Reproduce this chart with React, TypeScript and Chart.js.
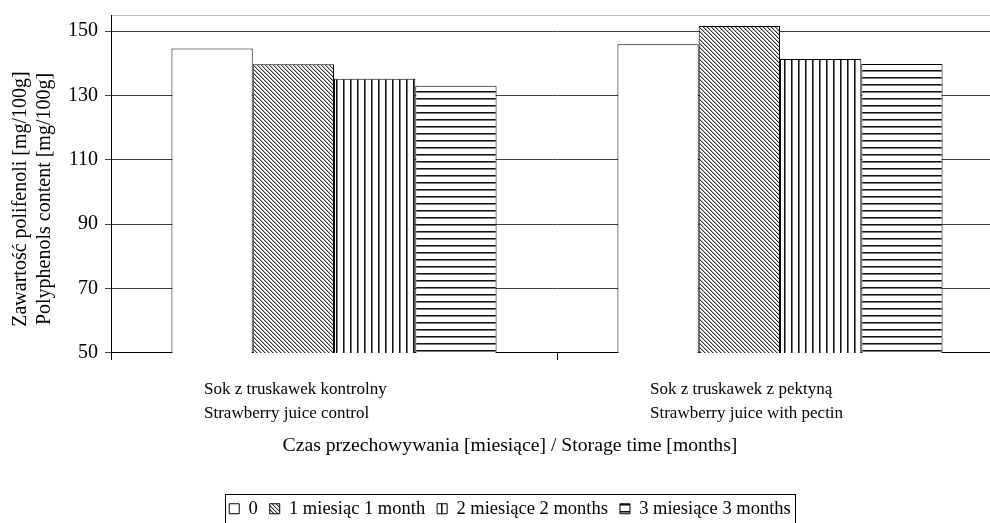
import React, { useEffect, useRef } from "react";
import { Chart, registerables } from "chart.js";

Chart.register(...registerables);

const categories = [
  ["Sok z truskawek kontrolny", "Strawberry juice control"],
  ["Sok z truskawek z pektyną", "Strawberry juice with pectin"],
];
const seriesNames = ["0", "1 miesiąc 1 month", "2 miesiące 2 months", "3 miesiące 3 months"];
const month0 = [144.6, 145.9];
const month1 = [139.7, 151.6];
const month2 = [135.2, 141.3];
const month3 = [133.0, 139.8];
const yTicks = [50, 70, 90, 110, 130, 150];
const yTitle = ["Zawartość polifenoli [mg/100g]      ", "Polyphenols content [mg/100g]      "];
const xTitle = "Czas przechowywania [miesiące] / Storage time [months]";

const FONT = "'Liberation Serif', 'Times New Roman', serif";

function makePattern(kind: string): any {
  if (kind === "none") return "#ffffff";
  const c = document.createElement("canvas");
  const ctx = c.getContext("2d")!;
  if (kind === "diag") {
    c.width = 4;
    c.height = 4;
    ctx.fillStyle = "#ffffff";
    ctx.fillRect(0, 0, 4, 4);
    for (let i = 0; i < 4; i++) {
      ctx.fillStyle = "#333333";
      ctx.fillRect(i, i, 1, 1);
      ctx.fillStyle = "#b0b0b0";
      ctx.fillRect((i + 1) % 4, i, 1, 1);
    }
  } else if (kind === "vert") {
    c.width = 7;
    c.height = 7;
    ctx.fillStyle = "#ffffff";
    ctx.fillRect(0, 0, 7, 7);
    ctx.fillStyle = "#111111";
    ctx.fillRect(0, 0, 1, 7);
    ctx.fillStyle = "#7a7a7a";
    ctx.fillRect(1, 0, 1, 7);
  } else {
    c.width = 7;
    c.height = 7;
    ctx.fillStyle = "#ffffff";
    ctx.fillRect(0, 0, 7, 7);
    ctx.fillStyle = "#111111";
    ctx.fillRect(0, 0, 7, 1);
    ctx.fillStyle = "#7a7a7a";
    ctx.fillRect(0, 1, 7, 1);
  }
  return ctx.createPattern(c, "repeat");
}

const legendBorder = {
  id: "legendBorder",
  afterDraw(chart: any) {
    const lg = chart.legend;
    if (!lg || !lg.legendHitBoxes || !lg.legendHitBoxes.length) return;
    const hb = lg.legendHitBoxes;
    const l = Math.min(...hb.map((h: any) => h.left)) - 4;
    const r = Math.max(...hb.map((h: any) => h.left + h.width)) + 4;
    const t = Math.min(...hb.map((h: any) => h.top)) - 6;
    const b = Math.max(...hb.map((h: any) => h.top + h.height)) + 4;
    const ctx = chart.ctx;
    ctx.save();
    ctx.strokeStyle = "#000";
    ctx.lineWidth = 1;
    ctx.strokeRect(Math.round(l) + 0.5, Math.round(t) + 0.5, Math.round(r - l), Math.round(b - t));
    ctx.restore();
  },
};

export default function App() {
  const ref = useRef<HTMLCanvasElement | null>(null);
  useEffect(() => {
    if (!ref.current) return;
    const fills = ["none", "diag", "vert", "horiz"].map(makePattern);
    const values = [month0, month1, month2, month3];
    const chart = new Chart(ref.current, {
      type: "bar",
      data: {
        labels: categories as any,
        datasets: values.map((v, i) => ({
          label: seriesNames[i],
          data: v,
          backgroundColor: fills[i],
          borderColor: "#000000",
          borderWidth: 1,
          categoryPercentage: 0.729,
          barPercentage: 1,
        })),
      },
      options: {
        responsive: false,
        animation: false,
        devicePixelRatio: 1,
        layout: { padding: { left: 17, right: 17, top: 15, bottom: 0 } },
        plugins: {
          legend: {
            position: "bottom",
            weight: 1000,
            labels: {
              font: { family: FONT, size: 18.5 },
              color: "#000",
              boxWidth: 10,
              boxHeight: 10,
              padding: 12,
            },
          } as any,
          title: {
            display: true,
            position: "bottom",
            weight: 500,
            text: xTitle,
            color: "#000",
            font: { family: FONT, size: 19.7, weight: "normal", lineHeight: 1.2 },
            padding: { top: 9, bottom: 29.9 },
          } as any,
          tooltip: { enabled: false },
        },
        scales: {
          x: {
            offset: true,
            grid: { offset: true, drawOnChartArea: false, drawTicks: true, tickLength: 7, color: "#000" },
            border: { color: "#000", width: 1 },
            ticks: {
              align: "start",
              labelOffset: -130,
              padding: 18,
              color: "#000",
              font: { family: FONT, size: 17, lineHeight: 1.4 },
              maxRotation: 0,
              autoSkip: false,
            },
            afterFit: (s: any) => {
              s.height = 72;
            },
          } as any,
          xTop: {
            type: "category",
            position: "top",
            grid: { display: false, drawTicks: false },
            ticks: { display: false },
            border: { color: "#c0c0c0", width: 1 },
          } as any,
          y: {
            min: 50,
            max: 155,
            afterBuildTicks: (s: any) => {
              s.ticks = yTicks.map((v) => ({ value: v }));
            },
            afterFit: (s: any) => {
              s.width = 94;
              s.paddingTop = 0;
              s.paddingBottom = 0;
            },
            grid: { color: "#404040", tickLength: 6 },
            border: { color: "#000", width: 1 },
            ticks: { padding: 7, color: "#000", font: { family: FONT, size: 20, lineHeight: 1 } },
            title: {
              display: true,
              text: yTitle,
              color: "#000",
              font: { family: FONT, size: 20, lineHeight: 1.2 },
              padding: { top: -8, bottom: 0 },
            },
          } as any,
        },
      },
      plugins: [legendBorder],
    });
    return () => chart.destroy();
  }, []);
  return (
    <div style={{ position: "fixed", left: 0, top: 0, width: 990, height: 523, overflow: "hidden", background: "#fff" }}>
      <canvas ref={ref} width={1020} height={528} style={{ display: "block" }} />
    </div>
  );
}
